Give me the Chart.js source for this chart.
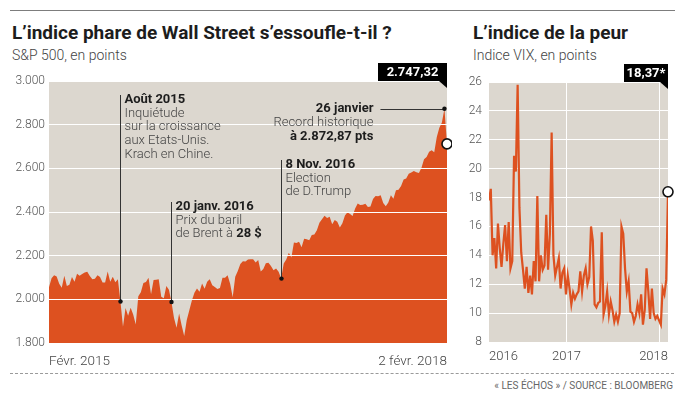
<!DOCTYPE html>
<html lang="fr">
<head>
<meta charset="utf-8">
<title>Wall Street et indice VIX</title>
<script src="https://cdn.jsdelivr.net/npm/chart.js@4.4.1/dist/chart.umd.min.js"></script>
<style>
  body { margin: 0; width: 687px; height: 399px; background: #fff; position: relative; overflow: hidden; font-family: Roboto, sans-serif; }
  .rule { position: absolute; left: 10px; width: 665px; top: 10px; border-top: 1.5px solid #7d7d7d; }
  .dash { position: absolute; left: 10px; width: 664px; top: 373px; border-top: 1px dashed #9a9a9a; }
  .title { position: absolute; top: 22px; font-size: 19px; line-height: 22px; font-weight: 700; color: #1d1d1d; white-space: nowrap; }
  .sub { position: absolute; top: 47px; font-size: 14px; line-height: 17px; font-weight: 300; color: #444; white-space: nowrap; }
  .source { position: absolute; right: 14px; top: 380px; font-size: 10px; line-height: 12px; color: #666; white-space: nowrap; }
  canvas { position: absolute; }
</style>
</head>
<body>
<div class="rule"></div>
<div class="title" style="left:12px">L’indice phare de Wall Street s’essoufle-t-il ?</div>
<div class="sub" style="left:12px">S&amp;P 500, en points</div>
<div class="title" style="left:473px">L’indice de la peur</div>
<div class="sub" style="left:473px">Indice VIX, en points</div>
<div class="dash"></div>
<div class="source">« LES ÉCHOS » / SOURCE : BLOOMBERG</div>

<div style="position:absolute;left:5px;top:60px;width:447px;height:308px"><canvas id="spx"></canvas></div>
<div style="position:absolute;left:455px;top:60px;width:220px;height:308px"><canvas id="vix"></canvas></div>

<script>
// S&P 500, une valeur par semaine (févr. 2015 -> 2 févr. 2018)
const spxTickLabels = ['Févr. 2015', '2 févr. 2018'];
const spxValues = [
    2055, 2097, 2110, 2105, 2071, 2053, 2108, 2061, 2067, 2102,
    2081, 2117, 2108, 2116, 2123, 2126, 2107, 2092, 2094, 2110,
    2102, 2077, 2077, 2127, 2080, 2104, 2078, 2092, 1990, 1875,
    1960, 1925, 1962, 1931, 1885, 2014, 2033, 2075, 2079, 2099,
    2023, 2089, 2090, 2092, 2012, 2005, 2061, 2044, 1988, 1915,
    1870, 1935, 1880, 1832, 1905, 1950, 1995, 2030, 2050, 2035,
    2073, 2048, 2081, 2092, 2065, 2057, 2047, 2052, 2099, 2099,
    2110, 2071, 2010, 2103, 2130, 2162, 2175, 2173, 2183, 2184,
    2184, 2169, 2180, 2128, 2139, 2165, 2168, 2153, 2133, 2141,
    2126, 2095, 2164, 2182, 2213, 2192, 2260, 2258, 2264, 2239,
    2277, 2275, 2271, 2295, 2297, 2316, 2351, 2367, 2383, 2373,
    2378, 2344, 2363, 2355, 2329, 2349, 2384, 2399, 2391, 2382,
    2416, 2439, 2432, 2433, 2438, 2423, 2425, 2459, 2473, 2472,
    2477, 2441, 2426, 2444, 2477, 2461, 2500, 2502, 2519, 2549,
    2553, 2575, 2581, 2588, 2582, 2579, 2603, 2642, 2652, 2676,
    2683, 2674, 2743, 2786, 2810, 2873, 2712
];
const spxLastLabel = '2.747,32';

// évènements annotés (index de semaine dans spxValues, haut du trait en px du canvas)
const spxNotes = [
    { index: 28, top: 35, title: 'Août 2015', lines: ['Inquiétude', 'sur la croissance', 'aux Etats-Unis.', 'Krach en Chine.'] },
    { index: 48, top: 142, title: '20 janv. 2016', lines: ['Prix du baril', [['de Brent à ', false], ['28 $', true]]] },
    { index: 91, top: 100, title: '8 Nov. 2016', lines: ['Election', 'de D.Trump'] }
];
const spxRecord = { index: 155, lines: [['26 janvier', true], ['Record historique', false], ['à 2.872,87 pts', true]] };

// VIX, une valeur par semaine à partir du 4 mars 2016
const vixStart = Date.UTC(2016, 2, 4);
const vixYears = [2016, 2017, 2018];
const vixValues = [
    17.8, 18.6, 14.0, 15.2, 13.1, 16.2, 14.5, 13.2, 14.8, 16.1,
    13.6, 16.3, 13.1, 13.6, 20.9, 19.8, 25.8, 17.3, 14.2, 13.0,
    11.7, 13.2, 11.4, 12.6, 11.3, 13.6, 12.2, 18.1, 12.2, 14.0,
    13.0, 13.3, 16.8, 13.0, 15.5, 22.5, 14.0, 12.6, 13.2, 13.8,
    11.7, 12.8, 13.1, 11.3, 12.6, 11.7, 10.6, 11.4, 11.0, 11.3,
    11.5, 12.9, 11.5, 12.6, 13.1, 12.0, 12.5, 16.0, 15.0, 10.6,
    10.4, 10.7, 10.8, 15.6, 9.9, 10.5, 11.5, 9.9, 10.8, 10.2,
    9.4, 9.9, 9.4, 10.0, 16.0, 15.5, 13.1, 11.5, 12.2, 10.1,
    10.0, 9.4, 9.8, 10.6, 10.0, 11.3, 9.2, 10.2, 13.1, 11.5,
    9.6, 11.7, 10.0, 9.6, 9.8, 9.5, 9.2, 11.7, 11.3, 12.3,
    18.4
];
const vixLastLabel = '18,37*';

const orange = '#dd5120';
const beige = '#dcd7cf';
Chart.defaults.font.family = 'Roboto';
Chart.defaults.color = '#555';

function thousands(v) {
    return String(v).replace(/\B(?=(\d{3})+(?!\d))/g, '.');
}

// fond beige de la zone de tracé
const plotBackground = {
    id: 'plotBackground',
    beforeDraw(chart) {
        const a = chart.chartArea;
        chart.ctx.save();
        chart.ctx.fillStyle = beige;
        chart.ctx.fillRect(a.left, a.top, a.right - a.left, a.bottom - a.top);
        chart.ctx.restore();
    }
};

// étiquette noire de la dernière valeur, en haut à droite
function lastValueBox(text, width) {
    return {
        id: 'lastValueBox',
        afterDraw(chart) {
            const ctx = chart.ctx;
            const a = chart.chartArea;
            ctx.save();
            ctx.fillStyle = '#000';
            ctx.fillRect(a.right - width, a.top - 18, width, 18);
            ctx.beginPath();
            ctx.moveTo(a.right - 8, a.top);
            ctx.lineTo(a.right, a.top);
            ctx.lineTo(a.right, a.top + 7);
            ctx.closePath();
            ctx.fill();
            ctx.fillStyle = '#fff';
            ctx.font = 'bold 13px Roboto';
            ctx.textAlign = 'center';
            ctx.textBaseline = 'middle';
            ctx.fillText(text, a.right - width / 2, a.top - 8.5);
            ctx.restore();
        }
    };
}

function lastPoint(ctx, x, y) {
    ctx.beginPath();
    ctx.arc(x, y, 5, 0, Math.PI * 2);
    ctx.fillStyle = '#fff';
    ctx.fill();
    ctx.lineWidth = 1.6;
    ctx.strokeStyle = '#111';
    ctx.stroke();
}

function dot(ctx, x, y) {
    ctx.beginPath();
    ctx.arc(x, y, 2.2, 0, Math.PI * 2);
    ctx.fillStyle = '#111';
    ctx.fill();
}

const noteFont = 13;

const spxAnnotations = {
    id: 'spxAnnotations',
    afterDraw(chart) {
        const ctx = chart.ctx;
        const xs = chart.scales.x;
        const ys = chart.scales.y;
        ctx.save();
        ctx.textBaseline = 'middle';
        ctx.strokeStyle = '#333';
        ctx.lineWidth = 1;

        spxNotes.forEach(function (note) {
            const x = Math.round(xs.getPixelForValue(note.index)) + 0.5;
            const y = ys.getPixelForValue(spxValues[note.index]);
            ctx.beginPath();
            ctx.moveTo(x, note.top);
            ctx.lineTo(x, y);
            ctx.stroke();
            dot(ctx, x, y);

            let ty = note.top + 5;
            ctx.textAlign = 'left';
            ctx.fillStyle = '#1d1d1d';
            ctx.font = 'bold ' + noteFont + 'px Roboto';
            ctx.fillText(note.title, x + 4, ty);
            note.lines.forEach(function (line) {
                ty += 13.6;
                const parts = typeof line === 'string' ? [[line, false]] : line;
                let tx = x + 4;
                parts.forEach(function (p) {
                    ctx.font = (p[1] ? 'bold ' : '300 ') + noteFont + 'px Roboto';
                    ctx.fillStyle = p[1] ? '#1d1d1d' : '#444';
                    ctx.fillText(p[0], tx, ty);
                    tx += ctx.measureText(p[0]).width;
                });
            });
        });

        // record historique
        const rx = xs.getPixelForValue(spxRecord.index);
        const ry = ys.getPixelForValue(spxValues[spxRecord.index]);
        const textRight = rx - 71;
        ctx.beginPath();
        ctx.moveTo(textRight + 7, Math.round(ry) + 0.5);
        ctx.lineTo(rx, Math.round(ry) + 0.5);
        ctx.stroke();
        dot(ctx, rx, ry);
        ctx.textAlign = 'right';
        spxRecord.lines.forEach(function (p, i) {
            ctx.font = (p[1] ? 'bold ' : '300 ') + noteFont + 'px Roboto';
            ctx.fillStyle = p[1] ? '#1d1d1d' : '#444';
            ctx.fillText(p[0], textRight, ry + i * 14);
        });

        const last = spxValues.length - 1;
        lastPoint(ctx, xs.getPixelForValue(last), ys.getPixelForValue(spxValues[last]));
        ctx.restore();
    }
};

const vixLastPoint = {
    id: 'vixLastPoint',
    afterDraw(chart) {
        const last = vixValues.length - 1;
        chart.ctx.save();
        lastPoint(chart.ctx, chart.scales.x.getPixelForValue(last), chart.scales.y.getPixelForValue(vixValues[last]));
        chart.ctx.restore();
    }
};

const tickFont = { size: 12, weight: '300' };

new Chart(document.getElementById('spx'), {
    type: 'line',
    data: {
        datasets: [{
            data: spxValues.map(function (v, i) { return { x: i, y: v }; }),
            fill: 'start',
            backgroundColor: orange,
            borderWidth: 0,
            pointRadius: 0,
            tension: 0
        }]
    },
    options: {
        responsive: true,
        maintainAspectRatio: false,
        animation: false,
        layout: { padding: { top: 21, right: 5, left: 0, bottom: 0 } },
        plugins: { legend: { display: false }, tooltip: { enabled: false } },
        scales: {
            x: {
                type: 'linear',
                min: 0,
                max: spxValues.length - 1,
                grid: { display: false },
                border: { display: false },
                afterBuildTicks: function (s) {
                    s.ticks = [{ value: 0 }, { value: spxValues.length - 1 }];
                },
                afterFit: function (s) { s.height = 25; },
                ticks: {
                    align: 'inner',
                    autoSkip: false,
                    maxRotation: 0,
                    padding: 3,
                    font: { size: 13.5, weight: '300' },
                    color: '#444',
                    callback: function (v, i) { return spxTickLabels[i]; }
                }
            },
            y: {
                min: 1800,
                max: 3000,
                grid: { color: '#fff', lineWidth: 1, drawTicks: false, z: 1 },
                border: { display: false },
                afterFit: function (s) { s.width = 44; },
                ticks: {
                    stepSize: 200,
                    padding: 4,
                    font: tickFont,
                    color: '#555',
                    callback: function (v) { return thousands(v); }
                }
            }
        }
    },
    plugins: [plotBackground, spxAnnotations, lastValueBox(spxLastLabel, 69)]
});

const weekMs = 7 * 864e5;
const vixYearWeeks = vixYears.map(function (y) { return (Date.UTC(y, 0, 1) - vixStart) / weekMs; });

new Chart(document.getElementById('vix'), {
    type: 'line',
    data: {
        datasets: [{
            data: vixValues.map(function (v, i) { return { x: i, y: v }; }),
            borderColor: orange,
            borderWidth: 2.2,
            pointRadius: 0,
            tension: 0,
            fill: false
        }]
    },
    options: {
        responsive: true,
        maintainAspectRatio: false,
        animation: false,
        layout: { padding: { top: 22, right: 6, left: 0, bottom: 0 } },
        plugins: { legend: { display: false }, tooltip: { enabled: false } },
        scales: {
            x: {
                type: 'linear',
                min: 0,
                max: vixValues.length - 1,
                border: { display: false },
                grid: {
                    drawTicks: false,
                    lineWidth: 1,
                    color: function (c) {
                        return (c.index === 1 || c.index === 2) ? '#fff' : 'rgba(0,0,0,0)';
                    }
                },
                afterBuildTicks: function (s) {
                    s.ticks = [{ value: 0 }, { value: vixYearWeeks[1] }, { value: vixYearWeeks[2] }, { value: vixValues.length - 1 }];
                },
                afterFit: function (s) { s.height = 26; },
                ticks: {
                    align: 'inner',
                    autoSkip: false,
                    maxRotation: 0,
                    padding: 7,
                    font: { size: 13, weight: '300' },
                    color: '#444',
                    callback: function (v, i) {
                        return ['2016', '2017', '', '2018'][i];
                    }
                }
            },
            y: {
                min: 8,
                max: 26,
                grid: { color: '#fff', lineWidth: 1, drawTicks: false },
                border: { display: false },
                afterFit: function (s) { s.width = 34; },
                ticks: {
                    stepSize: 2,
                    padding: 7,
                    font: tickFont,
                    color: '#555'
                }
            }
        }
    },
    plugins: [plotBackground, vixLastPoint, lastValueBox(vixLastLabel, 44)]
});
</script>
</body>
</html>
